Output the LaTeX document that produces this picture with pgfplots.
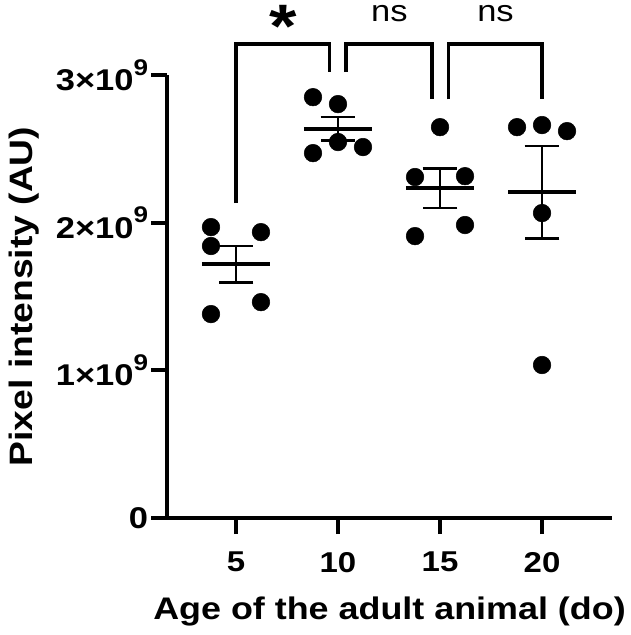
\documentclass[border=0pt]{standalone}
\usepackage{fontspec}
\setmainfont{Liberation Sans}[FakeStretch=1.15]
\usepackage{pgfplots}
\pgfplotsset{compat=1.18}

% y tick labels like 2x10^9
\newcommand{\sci}[1]{#1×10\raisebox{11.5pt}{\fontsize{17}{17}\selectfont 9}}

\begin{document}
\begin{tikzpicture}
\begin{axis}[
  width=333.75pt, height=332.25pt, scale only axis,
  xmin=1.62, xmax=23.43, ymin=0, ymax=3e9,
  axis x line*=bottom, axis y line*=left,
  axis line style={line width=2.8pt, -},
  tick align=outside, major tick length=12pt,
  tick style={line width=2.8pt, black},
  xtick={5,10,15,20}, xticklabels={5,10,15,20},
  ytick={0,1e9,2e9,3e9}, yticklabels={0,\sci{1},\sci{2},\sci{3}},
  scaled y ticks=false,
  ticklabel style={font=\fontsize{21.5}{25}\selectfont\bfseries, inner sep=0pt},
  xticklabel style={yshift=-13.5pt},
  yticklabel style={xshift=-2pt, font=\fontsize{22.5}{25}\selectfont\bfseries},
  xlabel={Age of the adult animal (do)},
  ylabel={Pixel intensity (AU)},
  label style={font=\fontsize{23.4}{28}\selectfont\bfseries},
  xlabel style={at={(rel axis cs:0.5,-0.228)}, anchor=base},
  ylabel style={at={(rel axis cs:-0.3213,0.5)}, anchor=center, font=\fontsize{24.3}{28}\selectfont\bfseries},
  clip=false,
]
% individual animals
\addplot[only marks, mark=*, mark size=6.6pt, black] coordinates {
  (3.775,1.970e9) (6.225,1.936e9) (3.775,1.842e9) (6.225,1.462e9) (3.775,1.381e9)
  (8.775,2.850e9) (10,2.803e9) (8.775,2.471e9) (10,2.546e9) (11.225,2.512e9)
  (15,2.647e9) (13.775,2.309e9) (16.225,2.315e9) (16.225,1.984e9) (13.775,1.909e9)
  (18.775,2.647e9) (20,2.661e9) (21.225,2.620e9) (20,2.065e9) (20,1.036e9)
};
% means
\addplot[black, line width=3pt, mark=none] coordinates {(3.333,1.718e9) (6.667,1.718e9)};
\addplot[black, line width=3pt, mark=none] coordinates {(8.333,2.636e9) (11.667,2.636e9)};
\addplot[black, line width=3pt, mark=none] coordinates {(13.333,2.233e9) (16.667,2.233e9)};
\addplot[black, line width=3pt, mark=none] coordinates {(18.333,2.206e9) (21.667,2.206e9)};
% SEM
\addplot[draw=none, mark=none,
  error bars/.cd, y dir=both, y explicit, error mark=|,
  error bar style={draw=black, line width=2pt},
  error mark options={draw=black, line width=2pt, mark size=13pt}]
  coordinates {
  (5,1.718e9) +- (0,0.124e9)
  (10,2.636e9) +- (0,0.079e9)
  (15,2.233e9) +- (0,0.133e9)
  (20,2.206e9) +- (0,0.313e9)
};
% comparison brackets
\addplot[black, line width=2.5pt, mark=none] coordinates {(5,2.133e9) (5,3.209e9) (9.6,3.209e9) (9.6,3.020e9)};
\addplot[black, line width=2.5pt, mark=none] coordinates {(10.4,3.020e9) (10.4,3.209e9) (14.6,3.209e9) (14.6,2.835e9)};
\addplot[black, line width=2.5pt, mark=none] coordinates {(15.4,2.835e9) (15.4,3.209e9) (20,3.209e9) (20,2.835e9)};
\node[font=\fontsize{46}{46}\selectfont\bfseries, anchor=north, inner sep=0pt] at (axis cs:7.3,3.474e9) {*};
\node[font=\fontsize{22.5}{27}\selectfont, inner sep=0pt] at (axis cs:12.52,3.415e9) {ns};
\node[font=\fontsize{22.5}{27}\selectfont, inner sep=0pt] at (axis cs:17.72,3.415e9) {ns};
\path (rel axis cs:-0.3753,-0.2641) rectangle (rel axis cs:1.027,1.1693);
\end{axis}
\end{tikzpicture}
\end{document}
